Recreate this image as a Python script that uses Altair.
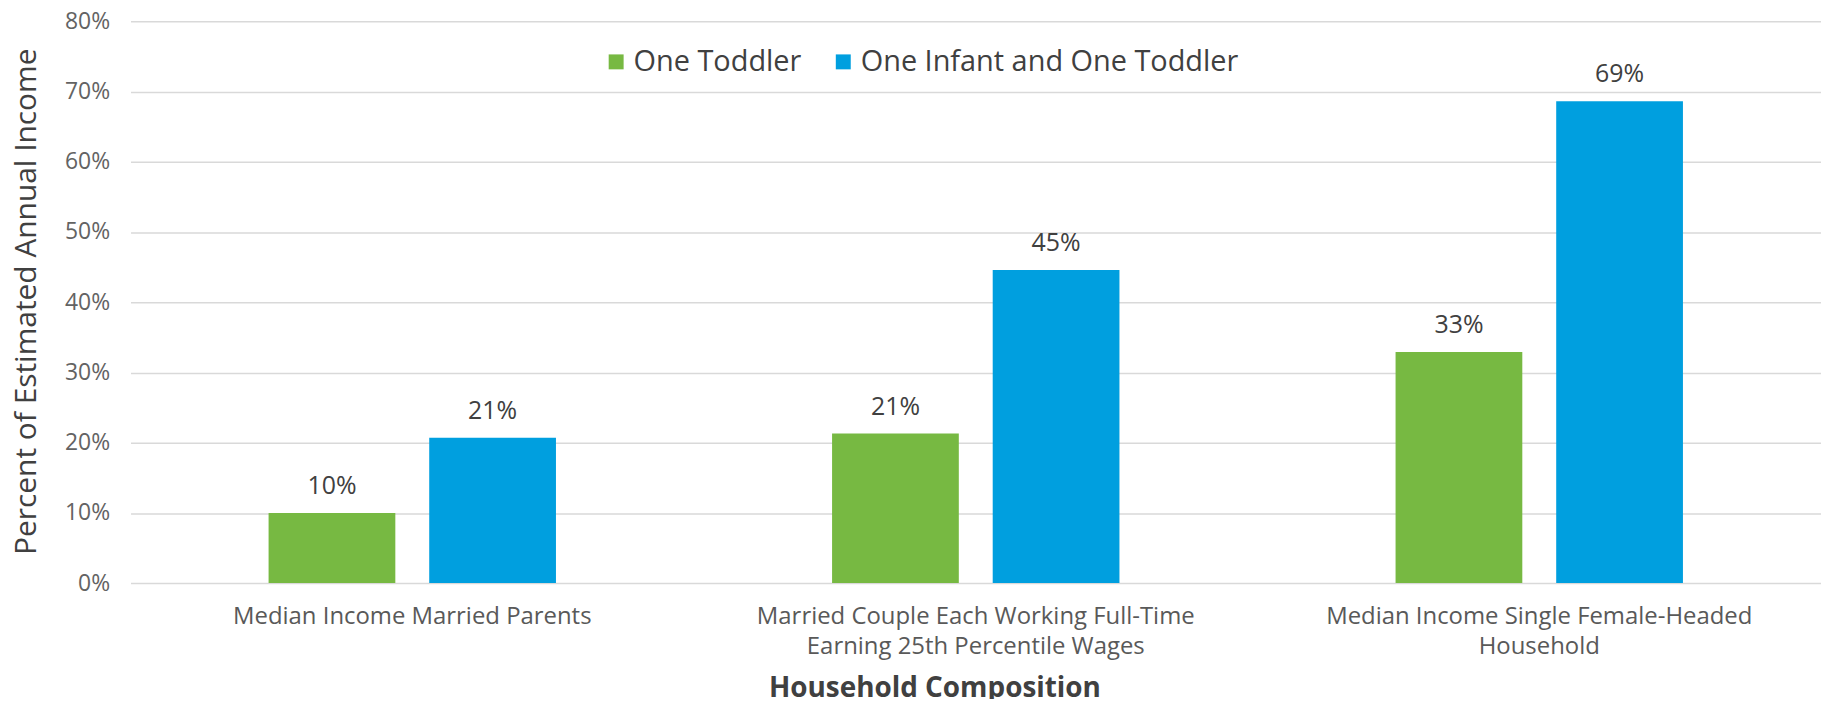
import altair as alt
import pandas as pd

categories = [
    "Median Income Married Parents",
    "Married Couple Each Working Full-Time|Earning 25th Percentile Wages",
    "Median Income Single Female-Headed|Household",
]
series = ["One Toddler", "One Infant and One Toddler"]
one_toddler = [0.100, 0.213, 0.329]
infant_and_toddler = [0.207, 0.446, 0.686]
colors = ["#77B942", "#009FDF"]
y_ticks = [0, 0.1, 0.2, 0.3, 0.4, 0.5, 0.6, 0.7, 0.8]

rows = []
for c, v1, v2 in zip(categories, one_toddler, infant_and_toddler):
    rows.append({"category": c, "series": series[0], "value": v1})
    rows.append({"category": c, "series": series[1], "value": v2})
df = pd.DataFrame(rows)

FONT = "Open Sans"

x_enc = alt.X(
    "category:N",
    sort=categories,
    scale=alt.Scale(paddingInner=0.49, paddingOuter=0.245),
    axis=alt.Axis(
        title="Household Composition",
        labelExpr="split(datum.label, '|')",
        labelAngle=0,
        labelFontSize=24,
        labelFont=FONT,
        labelColor="#595959",
        labelLineHeight=30,
        labelBaseline="top",
        labelPadding=22,
        labelLimit=800,
        ticks=False,
        tickSize=0,
        domain=False,
        titleFont=FONT,
        titleFontSize=28,
        titleFontWeight=700,
        titleColor="#404040",
        titleBaseline="middle",
        titleAlign="center",
        titleX=807,
        titleY=106,
    ),
)
xoff_enc = alt.XOffset(
    "series:N",
    sort=series,
    scale=alt.Scale(paddingInner=0.211, paddingOuter=0),
)
y_enc = alt.Y(
    "value:Q",
    scale=alt.Scale(domain=[0, 0.8], nice=False),
    axis=alt.Axis(
        title="Percent of Estimated Annual Income",
        values=y_ticks,
        format=".0%",
        labelFont=FONT,
        labelFontSize=23,
        labelColor="#636363",
        labelPadding=21,
        ticks=False,
        tickSize=0,
        domain=False,
        grid=True,
        gridColor="#D9D9D9",
        gridWidth=1.5,
        titleFont=FONT,
        titleFontSize=30,
        titleFontWeight=400,
        titleColor="#404040",
        titleAngle=-90,
        titleAlign="center",
        titleBaseline="middle",
        titleX=-104,
        titleY=281,
    ),
)

bars = alt.Chart(df).mark_bar().encode(
    x=x_enc,
    xOffset=xoff_enc,
    y=y_enc,
    color=alt.Color(
        "series:N",
        sort=series,
        scale=alt.Scale(domain=series, range=colors),
        legend=alt.Legend(
            title=None,
            orient="none",
            direction="horizontal",
            legendX=473,
            legendY=26,
            symbolType="square",
            symbolSize=225,
            symbolStrokeWidth=0,
            symbolOpacity=1,
            labelFont=FONT,
            labelFontSize=29,
            labelColor="#404040",
            labelOffset=3,
            columnPadding=27,
            padding=0,
            labelLimit=600,
        ),
    ),
)

labels = alt.Chart(df).mark_text(
    font=FONT, fontSize=25, color="#404040", baseline="middle", dy=-27
).encode(
    x=alt.X("category:N", sort=categories),
    xOffset=alt.XOffset("series:N", sort=series),
    y=alt.Y("value:Q"),
    text=alt.Text("value:Q", format=".0%"),
)

chart = (
    alt.layer(bars, labels)
    .properties(
        width=1697,
        height=564,
        padding={"left": 123, "top": 12, "right": 0, "bottom": 115},
        autosize=alt.AutoSizeParams(type="none"),
    )
    .configure_view(stroke=None)
)

chart.save("out.html", embed_options={"renderer": "svg", "actions": False})
